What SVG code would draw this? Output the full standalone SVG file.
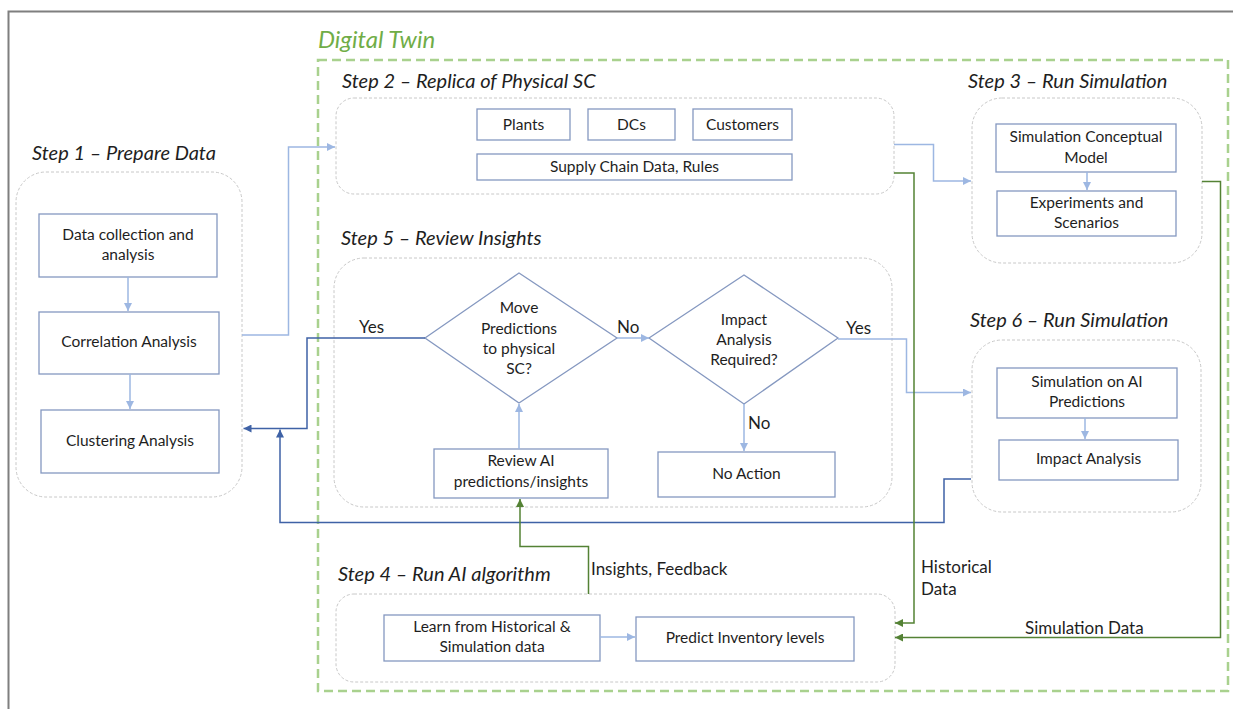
<svg xmlns="http://www.w3.org/2000/svg" width="1233" height="709" viewBox="0 0 1233 709">
  <style>
    .frame { fill: none; stroke: #7f7f7f; stroke-width: 2; }
    .twin { fill: none; stroke: #a9d18e; stroke-width: 2.5; stroke-dasharray: 9 5; }
    .stage { fill: none; stroke: #c8c8c8; stroke-width: 1; stroke-dasharray: 3 2; }
    .box { fill: #ffffff; stroke: #8598c0; stroke-width: 1.3; }
    .txt { font-family: Lato, "Liberation Sans", sans-serif; font-size: 15.5px; fill: #1e1e1e; text-anchor: middle; }
    .lbl { font-family: Lato, "Liberation Sans", sans-serif; font-size: 17px; fill: #1e1e1e; }
    .step { font-family: Lato, "Liberation Sans", sans-serif; font-size: 20px; font-style: italic; fill: #1e1e1e; }
    .title { font-family: Lato, "Liberation Sans", sans-serif; font-size: 24px; font-style: italic; fill: #70ad47; }
    .lb { fill: none; stroke: #9db7e2; stroke-width: 1.5; }
    .db { fill: none; stroke: #3f62a6; stroke-width: 1.5; }
    .dg { fill: none; stroke: #548235; stroke-width: 1.5; }
  </style>
  <defs>
    <marker id="ah-db" viewBox="0 0 10 10" refX="10" refY="5" markerWidth="8" markerHeight="8" markerUnits="userSpaceOnUse" orient="auto">
      <path d="M0,0 L10,5 L0,10 z" fill="#3f62a6"/>
    </marker>
    <marker id="ah-dg" viewBox="0 0 10 10" refX="10" refY="5" markerWidth="8" markerHeight="8" markerUnits="userSpaceOnUse" orient="auto">
      <path d="M0,0 L10,5 L0,10 z" fill="#548235"/>
    </marker>
    <marker id="ah-l" viewBox="0 0 10 10" refX="10" refY="5" markerWidth="8" markerHeight="8" markerUnits="userSpaceOnUse" orient="auto">
      <path d="M0,0 L10,5 L0,10 z" fill="#9db7e2"/>
    </marker>
  </defs>

  <rect width="1233" height="709" fill="#ffffff"/>
  <!-- page frame -->
  <path class="frame" d="M8.5,720 V11.5 H1240"/>

  <!-- Digital Twin boundary -->
  <text class="title" x="318" y="48">Digital Twin</text>
  <rect class="twin" x="318" y="60" width="910" height="631"/>

  <!-- step stages -->
  <g id="step1">
    <text class="step" x="32" y="160">Step 1 – Prepare Data</text>
    <rect class="stage" x="16" y="172" width="226" height="325" rx="30"/>
    <g id="data-collection">
      <rect class="box" x="39" y="214" width="178" height="63"/>
      <text class="txt" x="128" y="240">Data collection and</text>
      <text class="txt" x="128" y="260">analysis</text>
    </g>
    <g id="correlation">
      <rect class="box" x="39" y="312" width="180" height="62"/>
      <text class="txt" x="129" y="347">Correlation Analysis</text>
    </g>
    <g id="clustering">
      <rect class="box" x="41" y="410" width="178" height="63"/>
      <text class="txt" x="130" y="446">Clustering Analysis</text>
    </g>
  </g>

  <g id="step2">
    <text class="step" x="342" y="88">Step 2 – Replica of Physical SC</text>
    <rect class="stage" x="336" y="98" width="558" height="96" rx="18"/>
    <g id="plants">
      <rect class="box" x="477" y="109" width="93" height="31"/>
      <text class="txt" x="523.5" y="130">Plants</text>
    </g>
    <g id="dcs">
      <rect class="box" x="588" y="109" width="87" height="31"/>
      <text class="txt" x="631.5" y="130">DCs</text>
    </g>
    <g id="customers">
      <rect class="box" x="693" y="109" width="99" height="31"/>
      <text class="txt" x="742.5" y="130">Customers</text>
    </g>
    <g id="sc-data">
      <rect class="box" x="477" y="154" width="315" height="26"/>
      <text class="txt" x="634.5" y="172">Supply Chain Data, Rules</text>
    </g>
  </g>

  <g id="step3">
    <text class="step" x="968" y="88">Step 3 – Run Simulation</text>
    <rect class="stage" x="972" y="98" width="230" height="165" rx="30"/>
    <g id="conceptual-model">
      <rect class="box" x="996" y="124" width="180" height="48"/>
      <text class="txt" x="1086" y="142">Simulation Conceptual</text>
      <text class="txt" x="1086" y="163">Model</text>
    </g>
    <g id="experiments">
      <rect class="box" x="997" y="191" width="179" height="45"/>
      <text class="txt" x="1086.5" y="208">Experiments and</text>
      <text class="txt" x="1086.5" y="228">Scenarios</text>
    </g>
  </g>

  <g id="step5">
    <text class="step" x="341" y="245">Step 5 – Review Insights</text>
    <rect class="stage" x="334" y="258" width="558" height="249" rx="30"/>
    <g id="move-predictions">
      <polygon class="box" points="425,338 519,273 617,338 519,403"/>
      <text class="txt" x="519" y="313">Move</text>
      <text class="txt" x="519" y="334">Predictions</text>
      <text class="txt" x="519" y="354">to physical</text>
      <text class="txt" x="519" y="374">SC?</text>
    </g>
    <g id="impact-required">
      <polygon class="box" points="649,338 744,275 838,338 744,404"/>
      <text class="txt" x="744" y="325">Impact</text>
      <text class="txt" x="744" y="345">Analysis</text>
      <text class="txt" x="744" y="365">Required?</text>
    </g>
    <g id="review-ai">
      <rect class="box" x="434" y="449" width="174" height="49"/>
      <text class="txt" x="521" y="466">Review AI</text>
      <text class="txt" x="521" y="487">predictions/insights</text>
    </g>
    <g id="no-action">
      <rect class="box" x="658" y="452" width="177" height="45"/>
      <text class="txt" x="746.5" y="479">No Action</text>
    </g>
  </g>

  <g id="step6">
    <text class="step" x="970" y="327">Step 6 – Run Simulation</text>
    <rect class="stage" x="972" y="340" width="229" height="172" rx="30"/>
    <g id="simulation-ai">
      <rect class="box" x="997" y="368" width="180" height="50"/>
      <text class="txt" x="1087" y="387">Simulation on AI</text>
      <text class="txt" x="1087" y="407">Predictions</text>
    </g>
    <g id="impact-analysis">
      <rect class="box" x="999" y="440" width="179" height="40"/>
      <text class="txt" x="1088.5" y="464">Impact Analysis</text>
    </g>
  </g>

  <g id="step4">
    <text class="step" x="338" y="581">Step 4 – Run AI algorithm</text>
    <rect class="stage" x="336" y="594" width="559" height="88" rx="18"/>
    <g id="learn">
      <rect class="box" x="384" y="615" width="216" height="46"/>
      <text class="txt" x="492" y="632">Learn from Historical &amp;</text>
      <text class="txt" x="492" y="652">Simulation data</text>
    </g>
    <g id="predict">
      <rect class="box" x="636" y="617" width="218" height="44"/>
      <text class="txt" x="745" y="643">Predict Inventory levels</text>
    </g>
  </g>

  <!-- connectors -->
  <g id="connectors">
    <!-- step 1 internal -->
    <path class="lb" d="M128,277 V311" marker-end="url(#ah-l)"/>
    <path class="lb" d="M130,374 V409" marker-end="url(#ah-l)"/>
    <!-- step 1 to step 2 -->
    <path class="lb" d="M242,335 H288.5 V147 H335" marker-end="url(#ah-l)"/>
    <!-- step 2 to step 3 -->
    <path class="lb" d="M894,144.5 H933.5 V181 H971" marker-end="url(#ah-l)"/>
    <!-- step 3 internal -->
    <path class="lb" d="M1087,172 V190" marker-end="url(#ah-l)"/>
    <!-- step 6 internal -->
    <path class="lb" d="M1085,418 V439" marker-end="url(#ah-l)"/>
    <!-- step 5 decisions -->
    <path class="lb" d="M519,449 V404" marker-end="url(#ah-l)"/>
    <path class="lb" d="M617,338 H649" marker-end="url(#ah-l)"/>
    <path class="lb" d="M744,404 V451" marker-end="url(#ah-l)"/>
    <path class="lb" d="M838,339 H906.5 V392.5 H971" marker-end="url(#ah-l)"/>
    <!-- step 4 internal -->
    <path class="lb" d="M600,637 H635" marker-end="url(#ah-l)"/>

    <!-- feedback to step 1 -->
    <path class="db" d="M425,338 H307 V428.5 H243.5" marker-end="url(#ah-db)"/>
    <path class="db" d="M971,479 H944 V522.5 H280 V429.5" marker-end="url(#ah-db)"/>

    <!-- data into step 4 -->
    <path class="dg" d="M894,173 H914 V623 H895" marker-end="url(#ah-dg)"/>
    <path class="dg" d="M1202,181.5 H1220.5 V637.5 H895" marker-end="url(#ah-dg)"/>
    <path class="dg" d="M588.5,594 V546.5 H520 V499" marker-end="url(#ah-dg)"/>

    <!-- connector labels -->
    <text class="lbl" x="359" y="333">Yes</text>
    <text class="lbl" x="617" y="333">No</text>
    <text class="lbl" x="846" y="334">Yes</text>
    <text class="lbl" x="748" y="429">No</text>
    <text class="lbl" x="591" y="575">Insights, Feedback</text>
    <text class="lbl" x="921" y="573">Historical</text>
    <text class="lbl" x="921" y="595">Data</text>
    <text class="lbl" x="1025" y="634">Simulation Data</text>
  </g>
</svg>
